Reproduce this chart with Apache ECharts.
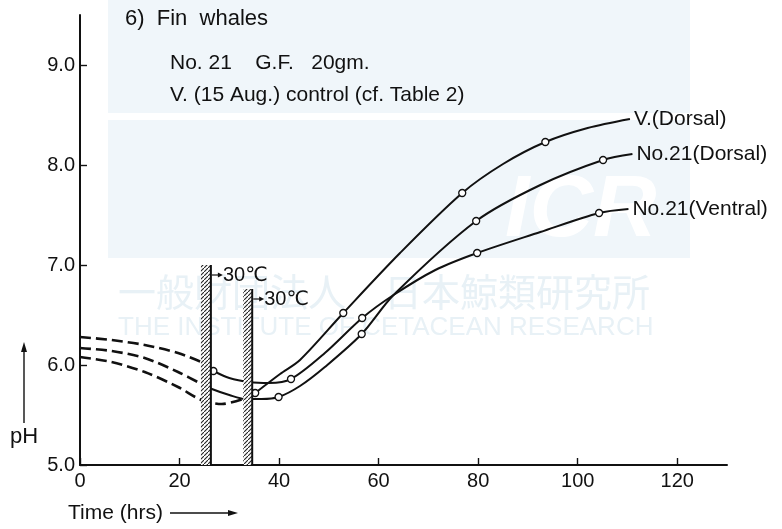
<!DOCTYPE html>
<html>
<head>
<meta charset="utf-8">
<script src="https://cdn.jsdelivr.net/npm/echarts@6/dist/echarts.min.js"></script>
<style>
html,body{margin:0;padding:0;background:#fff;}
#chart{width:782px;height:529px;}
</style>
</head>
<body>
<div id="chart"></div>
<script>
// ---------- data ----------
const xTicks = [0, 20, 40, 60, 80, 100, 120];
const yTicks = [5, 6, 7, 8, 9];

// dashed (before 30℃) parts
const vDashX = [0, 6.3, 13, 19.7, 24.4, 28.5, 32.8];
const vDashY = [6.08, 6.03, 5.93, 5.78, 5.65, 5.61, 5.66];
const venDashX = [0, 6.3, 13, 19.7, 24.4];
const venDashY = [6.28, 6.25, 6.20, 6.12, 6.03];
const dorDashX = [0, 6.3, 13, 19.7, 24.4];
const dorDashY = [6.17, 6.14, 6.07, 5.93, 5.81];

// solid parts (marked = observed point drawn as open circle)
const vX = [35.2, 40.2, 44.2, 52.9, 64.3, 76.8, 85, 93.5, 102, 110.5];
const vY = [5.72, 5.91, 6.05, 6.52, 7.12, 7.72, 8.01, 8.23, 8.37, 8.46];
const vMarked = [1, 0, 0, 1, 0, 1, 0, 1, 0, 0];

const dorX = [24.4, 26.5, 30, 33.2, 36.5, 39.9, 44.2, 49.2, 56.6, 63, 79.6, 92.5, 105.1, 111];
const dorY = [5.81, 5.76, 5.70, 5.66, 5.66, 5.68, 5.79, 5.98, 6.31, 6.70, 7.44, 7.80, 8.05, 8.11];
const dorMarked = [0, 0, 0, 0, 0, 1, 0, 0, 1, 0, 1, 0, 1, 0];

const venX = [26.8, 30, 34, 38, 42.4, 49.2, 56.7, 63, 71.4, 79.8, 92.5, 104.3, 110.2];
const venY = [5.94, 5.87, 5.83, 5.82, 5.86, 6.12, 6.47, 6.70, 6.95, 7.12, 7.33, 7.52, 7.56];
const venMarked = [1, 0, 0, 0, 1, 0, 1, 0, 0, 1, 0, 1, 0];

// 30℃ transfer bars
const barStart = [24.3, 32.8];
const barEnd = [26.3, 34.6];
const barTop = [7.0, 6.76];
const barNote = ['30℃', '30℃'];

const seriesNames = ['V.(Dorsal)', 'No.21(Dorsal)', 'No.21(Ventral)'];
const titleLines = ['6)  Fin  whales', 'No. 21    G.F.   20gm.', 'V. (15 Aug.) control (cf. Table 2)'];
const xName = 'Time (hrs)';
const yName = 'pH';
const wmJa = '一般財団法人　日本鯨類研究所';
const wmEn = 'THE INSTITUTE OF CETACEAN RESEARCH';

// ---------- chart ----------
const Y_MIN = 5, Y_MAX = 9.5, X_MIN = 0, X_MAX = 130;
const chart = echarts.init(document.getElementById('chart'), null, {renderer: 'canvas'});

const pc = document.createElement('canvas');
pc.width = 4; pc.height = 4;
const g = pc.getContext('2d');
g.fillStyle = '#fff'; g.fillRect(0, 0, 4, 4);
g.strokeStyle = '#222'; g.lineWidth = 1.1;
g.beginPath(); g.moveTo(-1, 5); g.lineTo(5, -1); g.stroke();
const hatch = {image: pc, repeat: 'repeat'};

function pairs(xs, ys) { return xs.map((x, i) => [x, ys[i]]); }
function marked(xs, ys, m) {
  return xs.map((x, i) => ({value: [x, ys[i]], symbol: m[i] ? 'circle' : 'none'}));
}
const font = "'Liberation Sans', 'DejaVu Sans', sans-serif";
const dashStyle = {color: '#111', width: 2.6, type: [11, 5]};

function dashed(name, xs, ys) {
  return {type: 'line', name: name, data: pairs(xs, ys), smooth: 0.3,
    showSymbol: false, symbol: 'none', lineStyle: dashStyle, z: 2, silent: true};
}
function solid(name, xs, ys, m) {
  return {type: 'line', name: name, data: marked(xs, ys, m), smooth: 0.3,
    symbol: 'circle', symbolSize: 7, showAllSymbol: true,
    itemStyle: {color: '#fff', borderColor: '#111', borderWidth: 1.3},
    lineStyle: {color: '#111', width: 2}, z: 2,
    endLabel: {show: true, formatter: name, fontFamily: font, fontSize: 21, color: '#111', distance: 4}};
}

const option = {
  animation: false,
  backgroundColor: '#fff',
  grid: {left: 80, right: 55, top: 15, bottom: 64, containLabel: false},
  xAxis: {
    type: 'value', min: X_MIN, max: X_MAX, interval: 20,
    axisLine: {show: true, onZero: false, lineStyle: {color: '#111', width: 2}},
    axisTick: {show: true, inside: true, length: 7, lineStyle: {color: '#111', width: 1.4}, customValues: xTicks},
    axisLabel: {fontFamily: font, fontSize: 20, color: '#111', margin: 6, customValues: xTicks},
    splitLine: {show: false}
  },
  yAxis: {
    type: 'value', min: Y_MIN, max: Y_MAX, interval: 1,
    axisLine: {show: true, onZero: false, lineStyle: {color: '#111', width: 2}},
    axisTick: {show: true, inside: true, length: 7, lineStyle: {color: '#111', width: 1.4}, customValues: yTicks},
    axisLabel: {fontFamily: font, fontSize: 20, color: '#111', margin: 5,
      customValues: yTicks, formatter: v => v.toFixed(1)},
    splitLine: {show: false}
  },
  graphic: [
    {type: 'rect', z: -10, shape: {x: 108, y: 0, width: 582, height: 113}, style: {fill: '#f0f6fa'}},
    {type: 'rect', z: -10, shape: {x: 108, y: 120, width: 582, height: 138}, style: {fill: '#f0f6fa'}},
    {type: 'text', z: -9, style: {text: 'ICR', x: 505, y: 212, verticalAlign: 'middle', fontFamily: font,
      fontSize: 88, fontWeight: 'bold', fontStyle: 'italic', fill: '#ffffff'}},
    {type: 'text', z: -9, style: {text: wmJa, x: 118, y: 292, verticalAlign: 'middle', fontFamily: "'Noto Sans CJK JP', sans-serif",
      fontSize: 38, fill: '#e8f1f6'}},
    {type: 'text', z: -9, style: {text: wmEn, x: 118, y: 328, verticalAlign: 'middle', fontFamily: font,
      fontSize: 26, fill: '#e8f1f6'}},
    {type: 'text', style: {text: titleLines[0], x: 125, y: 19, verticalAlign: 'middle', fontFamily: font, fontSize: 22, fill: '#111'}},
    {type: 'text', style: {text: titleLines[1], x: 170, y: 63, verticalAlign: 'middle', fontFamily: font, fontSize: 21, fill: '#111'}},
    {type: 'text', style: {text: titleLines[2], x: 170, y: 95, verticalAlign: 'middle', fontFamily: font, fontSize: 21, fill: '#111'}},
    {type: 'text', style: {text: yName, x: 10, y: 437, verticalAlign: 'middle', fontFamily: font, fontSize: 22, fill: '#111'}},
    {type: 'line', shape: {x1: 24, y1: 423, x2: 24, y2: 346}, style: {stroke: '#111', lineWidth: 1.4}},
    {type: 'polygon', shape: {points: [[24, 342], [21, 352], [27, 352]]}, style: {fill: '#111'}},
    {type: 'text', style: {text: xName, x: 68, y: 513, verticalAlign: 'middle', fontFamily: font, fontSize: 21, fill: '#111'}},
    {type: 'line', shape: {x1: 170, y1: 513, x2: 232, y2: 513}, style: {stroke: '#111', lineWidth: 1.4}},
    {type: 'polygon', shape: {points: [[238, 513], [228, 510], [228, 516]]}, style: {fill: '#111'}}
  ],
  series: [
    dashed('V. before', vDashX, vDashY),
    dashed('No.21 Ventral before', venDashX, venDashY),
    dashed('No.21 Dorsal before', dorDashX, dorDashY),
    solid(seriesNames[0], vX, vY, vMarked),
    solid(seriesNames[1], dorX, dorY, dorMarked),
    solid(seriesNames[2], venX, venY, venMarked),
    {
      type: 'custom', name: '30℃ transfer', z: 5, silent: true,
      data: barStart.map((s, i) => [s, barEnd[i], barTop[i], i]),
      renderItem: function (params, api) {
        const x0 = api.value(0), x1 = api.value(1), top = api.value(2);
        const note = barNote[api.value(3)];
        const p0 = api.coord([x0, top]);
        const p1 = api.coord([x1, Y_MIN]);
        const ay = p0[1] + 10;
        return {type: 'group', children: [
          {type: 'rect', shape: {x: p0[0], y: p0[1], width: p1[0] - p0[0], height: p1[1] - p0[1]}, style: {fill: hatch}},
          {type: 'line', shape: {x1: p1[0], y1: p0[1], x2: p1[0], y2: p1[1]}, style: {stroke: '#111', lineWidth: 2}},
          {type: 'line', shape: {x1: p1[0] + 1, y1: ay, x2: p1[0] + 8, y2: ay}, style: {stroke: '#111', lineWidth: 1.2}},
          {type: 'polygon', shape: {points: [[p1[0] + 12, ay], [p1[0] + 7, ay - 2.5], [p1[0] + 7, ay + 2.5]]}, style: {fill: '#111'}},
          {type: 'text', style: {text: note, x: p1[0] + 12, y: ay, verticalAlign: 'middle',
            fontFamily: font, fontSize: 20, fill: '#111'}}
        ]};
      }
    }
  ]
};
chart.setOption(option);
</script>
</body>
</html>
